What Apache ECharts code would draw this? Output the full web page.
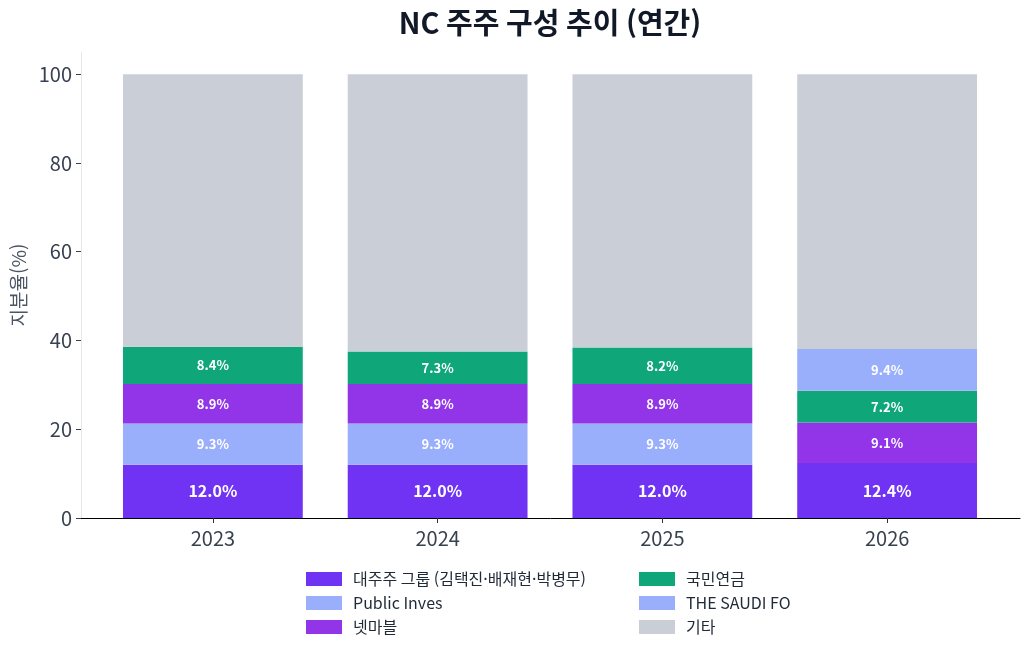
<!DOCTYPE html>
<html lang="ko">
<head>
    <meta charset="UTF-8">
    <title>NC 주주 구성 추이 (연간)</title>
    <script src="https://cdn.jsdelivr.net/npm/echarts@6.0.0/dist/echarts.min.js"></script>
    <style>
        body { margin: 0; background: #ffffff; }
        #chart { width: 1030px; height: 655px; }
    </style>
</head>
<body>
    <div id="chart"></div>
    <script>
        // данные
        const years = ['2023', '2024', '2025', '2026'];
        const majorGroup = [12.0, 12.0, 12.0, 12.4];   // 대주주 그룹
        const publicInves = [9.3, 9.3, 9.3, 0];        // Public Inves
        const netmarble = [8.9, 8.9, 8.9, 9.1];        // 넷마블
        const nps = [8.4, 7.3, 8.2, 7.2];              // 국민연금
        const saudi = [0, 0, 0, 9.4];                  // THE SAUDI FO
        const others = [61.4, 62.5, 61.6, 61.9];       // 기타

        const FONT = '"Noto Sans CJK KR", "Noto Sans", sans-serif';
        let chart = echarts.init(document.getElementById('chart'));

        function seg(name, data, color, big) {
            return {
                name: name,
                type: 'bar',
                stack: 'total',
                xAxisIndex: 1,
                yAxisIndex: 1,
                barWidth: '80%',
                data: data,
                itemStyle: { color: color },
                label: {
                    show: name !== '기타',
                    position: 'inside',
                    color: '#ffffff',
                    fontFamily: FONT,
                    fontWeight: 'bold',
                    fontSize: big ? 16 : 13,
                    formatter: p => p.value > 0 ? p.value.toFixed(1) + '%' : ''
                }
            };
        }

        let option = {
            backgroundColor: '#ffffff',
            animation: false,
            textStyle: { fontFamily: FONT },
            title: {
                text: 'NC 주주 구성 추이 (연간)',
                left: 550,
                textAlign: 'center',
                top: 8,
                padding: 0,
                textStyle: { fontFamily: FONT, fontSize: 29, fontWeight: 'bold', color: '#111827' }
            },
            legend: [
                {
                    orient: 'vertical',
                    left: 306, top: 571, padding: 0,
                    itemWidth: 36, itemHeight: 14, itemGap: 8,
                    icon: 'rect',
                    textStyle: { fontFamily: FONT, fontSize: 16, color: '#1f2937', lineHeight: 16, padding: [0, 0, 0, 6] },
                    data: ['대주주 그룹 (김택진·배재현·박병무)', 'Public Inves', '넷마블']
                },
                {
                    orient: 'vertical',
                    left: 639, top: 571, padding: 0,
                    itemWidth: 36, itemHeight: 14, itemGap: 8,
                    icon: 'rect',
                    textStyle: { fontFamily: FONT, fontSize: 16, color: '#1f2937', lineHeight: 16, padding: [0, 0, 0, 6] },
                    data: ['국민연금', 'THE SAUDI FO', '기타']
                }
            ],
            grid: [
                { left: 81, right: 10, top: 52, bottom: 137 },
                { left: 100.5, right: 30.5, top: 52, bottom: 137 }
            ],
            xAxis: [
                {
                    gridIndex: 0, type: 'value', min: 0, max: 1,
                    axisLine: { show: true, lineStyle: { color: '#000000', width: 1 } },
                    axisTick: { show: false }, axisLabel: { show: false }, splitLine: { show: false }
                },
                {
                    gridIndex: 1, type: 'category', data: years,
                    axisLine: { show: false },
                    axisTick: { show: true, alignWithLabel: true, length: 5, lineStyle: { color: '#333333' } },
                    axisLabel: { color: '#374151', fontSize: 20, margin: 10, fontFamily: FONT },
                    splitLine: { show: false }
                }
            ],
            yAxis: [
                {
                    gridIndex: 0, type: 'value', min: 0, max: 105, interval: 20,
                    name: '지분율(%)', nameLocation: 'middle', nameGap: 52, nameRotate: 90,
                    nameTextStyle: { color: '#4b5563', fontSize: 19, fontFamily: FONT },
                    axisLine: { show: true, lineStyle: { color: '#e5e7eb' } },
                    axisTick: { show: true, length: 5, lineStyle: { color: '#374151' } },
                    axisLabel: { color: '#374151', fontSize: 20, margin: 9, fontFamily: FONT, showMaxLabel: false },
                    splitLine: { show: false }
                },
                {
                    gridIndex: 1, type: 'value', min: 0, max: 105, show: false, splitLine: { show: false }
                }
            ],
            series: [
                seg('대주주 그룹 (김택진·배재현·박병무)', majorGroup, '#7033f3', true),
                seg('Public Inves', publicInves, '#9aaffc', false),
                seg('넷마블', netmarble, '#9234e8', false),
                seg('국민연금', nps, '#0fa77a', false),
                seg('THE SAUDI FO', saudi, '#9aaffc', false),
                seg('기타', others, '#c9ced7', false)
            ]
        };
        chart.setOption(option);
    </script>
</body>
</html>
